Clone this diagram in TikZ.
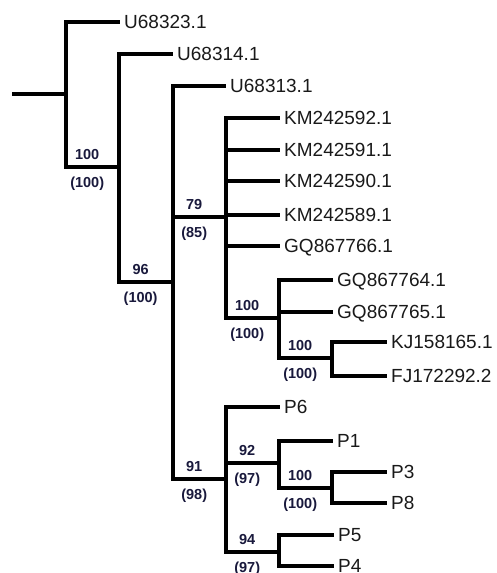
\documentclass[tikz,border=0pt]{standalone}
\usepackage{fontspec}
\setmainfont{Liberation Sans}
\usetikzlibrary{positioning,calc}
\definecolor{bootblue}{RGB}{25,25,60}
\definecolor{leafgray}{RGB}{25,25,25}
\tikzset{
  branch/.style={line width=4pt, black},
  leaf/.style={anchor=west, inner xsep=4pt, inner ysep=0pt, text height=13.6pt, text depth=0pt,
    font=\fontsize{19}{22}\selectfont, text=leafgray},
  bsval/.style={pos=0.7, anchor=base, inner sep=0pt,
    font=\fontsize{14.5}{17}\selectfont\bfseries, text=bootblue},
  bsup/.style={bsval, yshift=7.3pt},
  bsdown/.style={bsval, yshift=-20pt},
}
\begin{document}
\begin{tikzpicture}[x=1pt,y=-1pt]
    \useasboundingbox (0,0) rectangle (497,573);
    % inner nodes
    \coordinate (root) at (12,94);
    \coordinate (nA) at (66,94);
    \coordinate (nB) at (119,167);
    \coordinate (nC) at (173,282);
    \coordinate (nD) at (226,217);
    \coordinate (nE) at (279,318);
    \coordinate (nF) at (332,358);
    \coordinate (nG) at (226,479);
    \coordinate (nH) at (279,463);
    \coordinate (nI) at (332,488);
    \coordinate (nJ) at (279,552);
    % leaves
    \node[leaf] (U68323) at (120,22) {U68323.1};
    \node[leaf] (U68314) at (173,54) {U68314.1};
    \node[leaf] (U68313) at (226,86) {U68313.1};
    \node[leaf] (KM592) at (280,118) {KM242592.1};
    \node[leaf] (KM591) at (280,150) {KM242591.1};
    \node[leaf] (KM590) at (280,181) {KM242590.1};
    \node[leaf] (KM589) at (280,215) {KM242589.1};
    \node[leaf] (GQ766) at (280,246) {GQ867766.1};
    \node[leaf] (GQ764) at (333,280) {GQ867764.1};
    \node[leaf] (GQ765) at (333,312) {GQ867765.1};
    \node[leaf] (KJ165) at (387,342) {KJ158165.1};
    \node[leaf] (FJ292) at (387,376) {FJ172292.2};
    \node[leaf] (P6) at (280,407) {P6};
    \node[leaf] (P1) at (333,441) {P1};
    \node[leaf] (P3) at (387,472) {P3};
    \node[leaf] (P8) at (387,503) {P8};
    \node[leaf] (P5) at (334,535) {P5};
    \node[leaf] (P4) at (334,566) {P4};
    % branches
    \draw[branch] (root) -- (nA);
    \draw[branch] (nA) |- (U68323.west);
    \draw[branch] (nA) |- (nB) node[bsup] (bsA) {100} node[bsdown] (bsAb) {(100)};
    \draw[branch] (nB) |- (U68314.west);
    \draw[branch] (nB) |- (nC) node[bsup] (bsB) {96} node[bsdown] (bsBb) {(100)};
    \draw[branch] (nC) |- (U68313.west);
    \draw[branch] (nC) |- (nD) node[bsup] (bsD) {79} node[bsdown] (bsDb) {(85)};
    \draw[branch] (nC) |- (nG) node[bsup] (bsG) {91} node[bsdown] (bsGb) {(98)};
    \foreach \lf in {KM592,KM591,KM590,KM589,GQ766}
        \draw[branch] (nD) |- (\lf.west);
    \draw[branch] (nD) |- (nE) node[bsup] (bsE) {100} node[bsdown] (bsEb) {(100)};
    \draw[branch] (nE) |- (GQ764.west);
    \draw[branch] (nE) |- (GQ765.west);
    \draw[branch] (nE) |- (nF) node[bsup] (bsF) {100} node[bsdown] (bsFb) {(100)};
    \draw[branch] (nF) |- (KJ165.west);
    \draw[branch] (nF) |- (FJ292.west);
    \draw[branch] (nG) |- (P6.west);
    \draw[branch] (nG) |- (nH) node[bsup] (bsH) {92} node[bsdown] (bsHb) {(97)};
    \draw[branch] (nG) |- (nJ) node[bsup] (bsJ) {94} node[bsdown] (bsJb) {(97)};
    \draw[branch] (nH) |- (P1.west);
    \draw[branch] (nH) |- (nI) node[bsup] (bsI) {100} node[bsdown] (bsIb) {(100)};
    \draw[branch] (nI) |- (P3.west);
    \draw[branch] (nI) |- (P8.west);
    \draw[branch] (nJ) |- (P5.west);
    \draw[branch] (nJ) |- (P4.west);
\end{tikzpicture}
\end{document}
